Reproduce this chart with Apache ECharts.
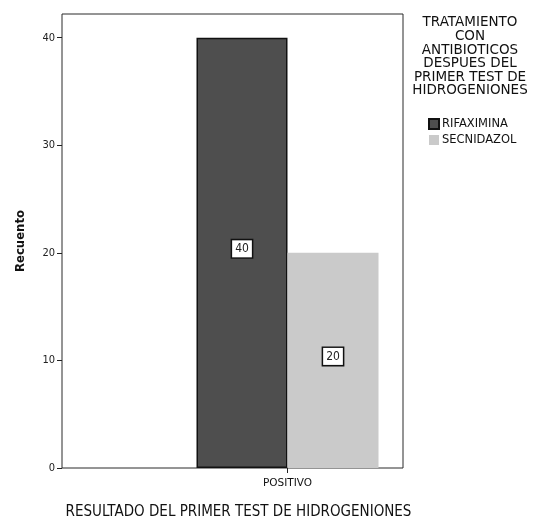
<!DOCTYPE html>
<html>
<head>
<meta charset="utf-8">
<script src="https://cdn.jsdelivr.net/npm/echarts@6/dist/echarts.min.js"></script>
<style>
  html, body { margin: 0; padding: 0; background: #ffffff; }
  #chart { width: 537px; height: 523px; }
</style>
</head>
<body>
<div id="chart"></div>
<script>
// Recuento por resultado del primer test de hidrogeniones
const categories = ['POSITIVO'];
const seriesNames = ['RIFAXIMINA', 'SECNIDAZOL'];
const rifaximina = [40];
const secnidazol = [20];
const yTicks = [0, 10, 20, 30, 40];

const legendTitle = 'TRATAMIENTO\nCON\nANTIBIOTICOS\nDESPUES DEL\nPRIMER TEST DE\nHIDROGENIONES';
const xTitle = 'RESULTADO DEL PRIMER TEST DE HIDROGENIONES';
const yTitle = 'Recuento';

const FONT = '"DejaVu Sans Condensed", "DejaVu Sans", sans-serif';
const FONT_WIDE = '"DejaVu Sans", sans-serif';
const yMax = 42.2;

const chart = echarts.init(document.getElementById('chart'), null, { renderer: 'canvas' });

const labelStyle = {
  show: true,
  position: 'inside',
  offset: [0, -4],
  backgroundColor: '#ffffff',
  borderColor: '#111111',
  borderWidth: 1.5,
  padding: [3, 3, 2, 3],
  color: '#222222',
  fontSize: 12,
  fontFamily: FONT
};

chart.setOption({
  animation: false,
  backgroundColor: '#ffffff',
  grid: [
    // frame of the plot area
    { left: 62, top: 14, width: 341, height: 454, show: true, outerBoundsMode: 'none',
      containLabel: false,
      backgroundColor: '#ffffff', borderColor: '#2a2a2a', borderWidth: 1 },
    // band that holds the bars
    { left: 172, top: 14, width: 231, height: 454, outerBoundsMode: 'none', containLabel: false }
  ],
  xAxis: [
    {
      gridIndex: 0, type: 'value', min: 0, max: 1,
      axisLine: { show: false }, axisTick: { show: false },
      axisLabel: { show: false }, splitLine: { show: false },
      name: xTitle, nameLocation: 'middle', nameGap: 37,
      nameTextStyle: { fontFamily: FONT, fontSize: 15, color: '#111111', padding: [0, 0, 0, 12] }
    },
    {
      gridIndex: 1, type: 'category', data: categories,
      axisLine: { show: false },
      axisTick: { show: true, alignWithLabel: true, length: 5, lineStyle: { color: '#222222' } },
      axisLabel: { fontFamily: FONT_WIDE, fontSize: 10.5, color: '#111111', margin: 10 },
      splitLine: { show: false }
    }
  ],
  yAxis: [
    {
      gridIndex: 0, type: 'value', min: 0, max: yMax, interval: 10,
      axisLine: { show: false },
      axisTick: { show: true, length: 5, customValues: yTicks, lineStyle: { color: '#222222' } },
      axisLabel: { customValues: yTicks, fontFamily: FONT, fontSize: 11, color: '#222222', margin: 7 },
      splitLine: { show: false },
      name: yTitle, nameLocation: 'middle', nameRotate: 90, nameGap: 35,
      nameTextStyle: { fontFamily: FONT, fontSize: 13, fontWeight: 'bold', color: '#111111' }
    },
    {
      gridIndex: 1, type: 'value', min: 0, max: yMax, show: false
    }
  ],
  legend: {
    orient: 'vertical', left: 423, top: 113,
    icon: 'rect',
    itemWidth: 10, itemHeight: 10, itemGap: 4,
    data: seriesNames,
    textStyle: { fontFamily: FONT_WIDE, fontSize: 11.5, color: '#111111', padding: [0, 0, 0, -2] }
  },
  graphic: [
    {
      type: 'text', x: 470, y: 16,
      style: {
        text: legendTitle, textAlign: 'center',
        font: '13.5px ' + FONT_WIDE, lineHeight: 13.6, fill: '#111111'
      }
    }
  ],
  series: [
    {
      name: seriesNames[0], type: 'bar', xAxisIndex: 1, yAxisIndex: 1,
      data: rifaximina, barWidth: 91, barGap: '0%',
      itemStyle: { color: '#4e4e4e', borderColor: '#111111', borderWidth: 1.5 },
      label: labelStyle
    },
    {
      name: seriesNames[1], type: 'bar', xAxisIndex: 1, yAxisIndex: 1,
      data: secnidazol, barWidth: 91, barGap: '0%',
      itemStyle: { color: '#cacaca', borderColor: '#cacaca', borderWidth: 0 },
      label: labelStyle
    }
  ]
});
</script>
</body>
</html>
